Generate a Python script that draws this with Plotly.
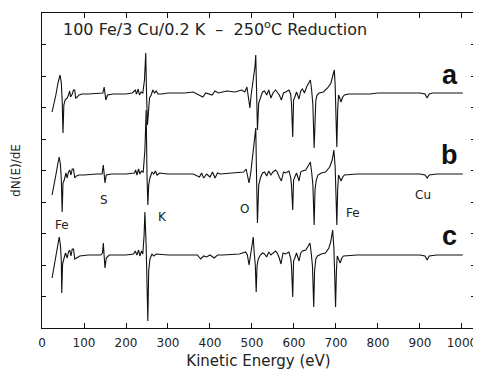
import plotly.graph_objects as go

# ---- data (kinetic energy in eV, signal as deviation from each trace's baseline, arbitrary units)
energy_a = [24,28,33,38,43,46,48,50,52,55,60,63,66,68,72,75,78,80,84,88,95,110,130,145,148,150,152,156,170,200,215,222,225,229,232,236,240,244,247,249,251,253,256,260,264,268,272,276,285,300,320,340,360,375,383,390,398,405,412,420,440,460,475,483,488,492,495,498,503,507,509,511,513,516,520,525,530,535,540,545,550,556,560,565,570,575,580,588,592,594,597,599,602,606,612,616,620,625,630,635,639,642,645,648,650,652,655,660,670,680,688,693,696,698,700,702,704,706,709,712,716,720,730,750,780,800,850,900,912,917,922,930,950,1002]
signal_a = [-17,-10,0,12,20,12,-5,-38,-10,-5,-3,0,4,-2,1,5,5,-3,-2,0,1,1,2,2,8,-2,-5,0,1,1,2,5,1,6,0,3,2,15,42,0,-30,-20,-3,0,5,2,4,1,1,2,2,2,3,0,-2,2,1,0,4,2,4,3,5,3,8,-5,-13,0,15,28,40,-10,-35,-8,-2,3,4,0,5,-3,2,5,3,0,-5,2,3,5,1,-8,-42,-5,-2,3,-4,4,6,2,8,12,15,5,-10,-53,-15,-5,0,2,3,7,12,22,25,10,-20,-52,-15,0,-3,-7,-2,0,1,1,1,2,2,2,1,-3,1,2,2,2]

energy_b = [24,28,33,38,41,44,46,48,50,53,57,60,63,66,69,72,75,78,82,88,100,130,143,146,148,150,153,165,200,220,223,226,230,233,237,241,245,248,250,252,254,257,262,266,270,274,280,300,330,360,375,380,385,392,400,406,412,418,425,460,480,486,490,493,497,502,506,509,511,513,516,520,525,530,535,540,545,550,556,560,565,570,575,580,588,592,594,597,599,602,606,612,616,620,628,635,639,642,645,648,650,653,657,665,675,685,691,695,698,700,702,704,706,709,712,716,720,750,800,850,900,912,917,922,940,1002]
signal_b = [-20,-12,0,12,18,10,-5,-37,-8,-5,2,-3,3,5,0,6,6,-3,-1,0,0,1,1,10,0,-8,0,1,1,2,5,0,6,1,4,3,25,65,0,-30,-10,-3,3,1,4,0,2,1,1,1,-2,2,-3,1,-2,3,-3,2,1,2,3,6,-3,-8,2,20,35,47,-5,-48,-10,-3,2,3,-1,4,0,3,5,3,-2,-6,3,2,4,-2,-10,-35,-5,-2,2,-6,3,4,5,10,13,3,-10,-50,-15,-5,0,2,3,8,15,25,8,-20,-50,-15,0,-3,-6,-2,0,1,1,1,1,0,-3,0,1,1]

energy_c = [24,28,33,37,41,44,46,47,49,52,56,60,63,66,69,72,75,78,83,90,110,140,144,146,148,150,153,160,200,218,222,226,230,233,237,240,243,245,248,250,252,254,257,262,266,272,300,350,370,378,385,392,400,410,418,430,470,485,489,493,497,500,503,505,508,510,512,515,520,525,530,535,540,545,550,556,560,565,569,574,580,588,592,594,597,599,602,606,612,616,620,628,634,638,641,644,647,649,652,656,665,675,683,688,692,695,697,699,701,703,706,710,714,718,750,800,850,900,912,917,922,940,1002]
signal_c = [-22,-12,0,12,19,10,-5,-37,-8,-3,3,-2,4,6,0,7,7,-3,-2,0,1,1,3,13,0,-12,-2,1,1,2,5,1,6,0,5,2,20,44,10,-30,-65,-15,-3,2,0,2,1,1,1,-3,0,-1,1,-2,1,1,2,4,1,-9,3,12,19,5,-10,-36,-10,-3,1,3,2,-1,4,1,3,5,3,-2,-8,3,2,4,-2,-10,-41,-5,-2,3,-5,3,5,6,10,13,3,-10,-51,-15,-3,0,2,3,8,15,26,8,-20,-51,-15,0,-3,-7,-2,0,1,1,1,1,0,-4,0,1,1]

baseline = {"a": 233, "b": 153, "c": 72}
trace_labels = ["a", "b", "c"]
element_labels = ["Fe", "S", "K", "O", "Fe", "Cu"]
element_energy = [48, 148, 286, 483, 740, 907]
element_level = [103, 128, 111, 119, 115, 133]
x_ticks = [0, 100, 200, 300, 400, 500, 600, 700, 800, 900, 1000]

series = {"a": (energy_a, signal_a), "b": (energy_b, signal_b), "c": (energy_c, signal_c)}

fig = go.Figure()
for name in trace_labels:
    e, s = series[name]
    fig.add_trace(go.Scatter(x=e, y=[v + baseline[name] for v in s], mode="lines",
                             line=dict(color="#111111", width=1.1), showlegend=False, name=name))

FONT = "DejaVu Sans"
for name in trace_labels:
    fig.add_annotation(x=971, y=baseline[name] + 20, text=f"<b>{name}</b>", showarrow=False,
                       font=dict(family="Liberation Sans", size=27, color="#111111"))
for lab, ex, ey in zip(element_labels, element_energy, element_level):
    fig.add_annotation(x=ex, y=ey, text=lab, showarrow=False,
                       font=dict(family=FONT, size=12, color="#222222"))
fig.add_annotation(x=46, y=300, xanchor="left", text="100 Fe/3 Cu/0.2 K  –  250<sup>o</sup>C Reduction",
                   showarrow=False, font=dict(family=FONT, size=16, color="#222222"))

axis_common = dict(showgrid=False, zeroline=False, showline=True, linecolor="#111111", linewidth=1,
                   mirror="ticks", ticks="inside", tickcolor="#111111")
fig.update_xaxes(range=[0, 1031], tickvals=x_ticks, ticklen=5, ticklabelstandoff=4,
                 tickfont=dict(family=FONT, size=12, color="#222222"),
                 title=dict(text="Kinetic Energy (eV)", font=dict(family=FONT, size=15, color="#222222"), standoff=6),
                 **axis_common)
fig.update_yaxes(range=[0, 315], tick0=0, dtick=31.5, ticklen=4, showticklabels=False,
                 title=dict(text="dN(E)/dE", font=dict(family=FONT, size=12, color="#222222"), standoff=17),
                 **axis_common)
fig.update_layout(width=473, height=368, margin=dict(l=34, r=6, t=5, b=48),
                  paper_bgcolor="white", plot_bgcolor="white")
fig.write_html("out.html")
